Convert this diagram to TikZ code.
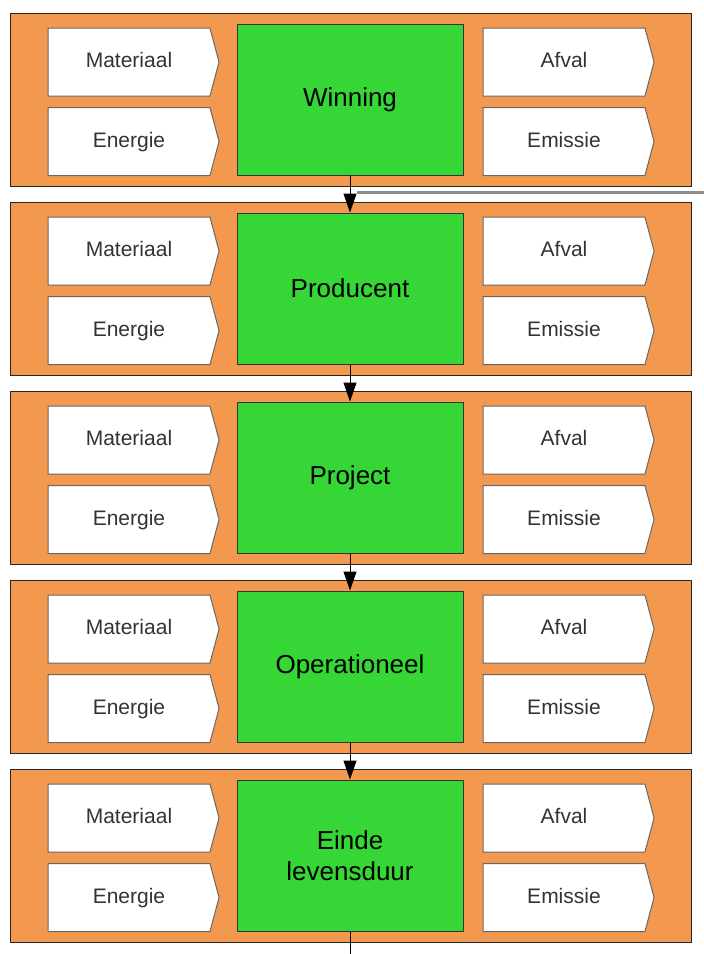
\documentclass[tikz,border=0pt]{standalone}
\usepackage{fontspec}
\setmainfont{Liberation Sans}
\usetikzlibrary{shapes.symbols, arrows.meta}
\definecolor{bandorange}{RGB}{243,153,79}
\definecolor{stagegreen}{RGB}{54,214,54}

\begin{document}
\begin{tikzpicture}[x=1pt,y=-1pt]
    \tikzstyle{band}=[draw=black!85, fill=bandorange, line width=1pt, minimum width=681pt, minimum height=173pt]
    \tikzstyle{stage}=[draw=black!80, fill=stagegreen, line width=1pt, minimum width=226pt, minimum height=151pt, align=center, font=\fontsize{26}{31}\selectfont]
    \tikzstyle{flow}=[signal, signal to=east, signal pointer angle=150, draw=black!60, fill=white, line width=1pt, minimum width=171pt, minimum height=68pt, inner sep=0pt, text height=15pt, text depth=4pt, text=black!80, font=\fontsize{21}{25}\selectfont]
    \tikzstyle{e}=[-{Triangle[length=19pt,width=13pt]}, line width=1pt]

    \def\dy{189}

    \useasboundingbox (0,0) rectangle (704,954);

    \foreach \name [count=\i] in {Winning, Producent, Project, Operationeel, {Einde\\levensduur}} {
        \pgfmathsetmacro{\y}{13+(\i-1)*\dy}
        \node[band] (band\i) at (350.5, \y+86.5) {};
        \node[stage] (stage\i) at (350, \y+86.5) {\name};
        \node[flow] (mat\i) at (129, \y+49) {Materiaal};
        \node[flow] (ene\i) at (129, \y+128.5) {Energie};
        \node[flow] (afv\i) at (564, \y+49) {Afval};
        \node[flow] (emi\i) at (564, \y+128.5) {Emissie};
    }

    \foreach \i [count=\j from 2] in {1,...,4}
        \draw[e] (stage\i) -- (stage\j);

    \coordinate (cut) at (357,192.5);
    \coordinate (edge) at (704,192.5);
    \draw[gray!90, line width=2.5pt] (cut) -- (edge);

    \coordinate (out) at (350,954);
    \draw[line width=1pt] (stage5) -- (out);

\end{tikzpicture}
\end{document}
